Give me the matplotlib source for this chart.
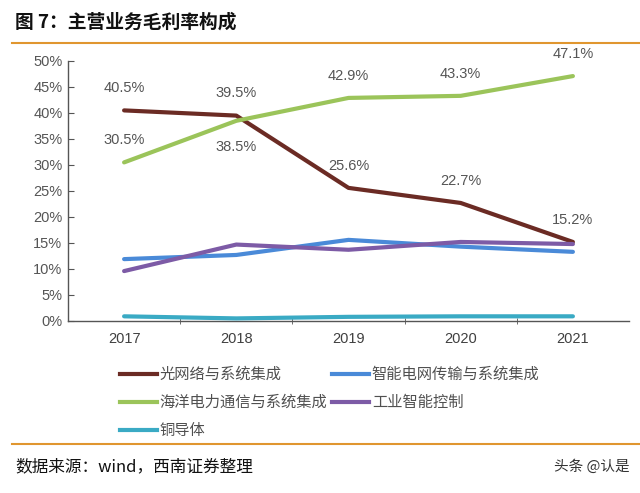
import matplotlib
matplotlib.use("Agg")
import matplotlib.pyplot as plt
from matplotlib.lines import Line2D

plt.rcParams['font.family'] = ['Noto Sans CJK SC', 'DejaVu Sans']

years = ["2017", "2018", "2019", "2020", "2021"]
optical = [40.5, 39.5, 25.6, 22.7, 15.2]
smart_grid = [11.9, 12.7, 15.6, 14.3, 13.3]
marine = [30.5, 38.5, 42.9, 43.3, 47.1]
industrial = [9.6, 14.7, 13.7, 15.2, 14.8]
copper = [0.9, 0.5, 0.8, 0.9, 0.9]
yticks = [0, 5, 10, 15, 20, 25, 30, 35, 40, 45, 50]

names = ["光网络与系统集成", "智能电网传输与系统集成", "海洋电力通信与系统集成", "工业智能控制", "铜导体"]
colors = ["#6B2B24", "#4A8AD8", "#9BC45A", "#7D5BA6", "#3AAAC4"]
series = [optical, smart_grid, marine, industrial, copper]

fig = plt.figure(figsize=(6.4, 4.93), dpi=100)
ax = fig.add_axes([68/640, 1-321/493, (629-68)/640, (321-61)/493])

x = list(range(len(years)))
for vals, c in zip(series, colors):
    ax.plot(x, vals, color=c, lw=3, solid_capstyle='round', zorder=3)

ax.set_xlim(-0.5, 4.5)
ax.set_ylim(0, 50)
ax.set_yticks(yticks)
ax.set_yticklabels([f"{v}%" for v in yticks], fontsize=10.5, color="#555555", family=['Liberation Sans', 'DejaVu Sans'])
ax.set_xticks(x)
ax.set_xticklabels(years, fontsize=10.5, color="#404040", family=['Liberation Sans', 'DejaVu Sans'])
ax.set_xticks([i + 0.5 for i in range(4)], minor=True)
ax.tick_params(axis='x', which='major', length=0, pad=8)
ax.tick_params(axis='x', which='minor', length=4, direction='inout', color="#555555")
ax.tick_params(axis='y', length=4, direction='in', color="#555555", pad=4)
for s in ["top", "right"]:
    ax.spines[s].set_visible(False)
for s in ["left", "bottom"]:
    ax.spines[s].set_color("#555555")
    ax.spines[s].set_linewidth(1)

lab_kw = dict(fontsize=10.5, color="#555555", ha='center', family=['Liberation Sans', 'DejaVu Sans'])
for i, v in enumerate(optical):
    ax.annotate(f"{v}%", (i, v), xytext=(0, 11), textcoords='offset points', va='bottom', **lab_kw)
for i, v in enumerate(marine):
    if i == 1:
        ax.annotate(f"{v}%", (i, v), xytext=(0, -14), textcoords='offset points', va='top', **lab_kw)
    else:
        ax.annotate(f"{v}%", (i, v), xytext=(0, 11), textcoords='offset points', va='bottom', **lab_kw)

handles = [Line2D([0], [0], color=c, lw=3) for c in colors]
order = [0, 2, 4, 1, 3]
fig.legend([handles[i] for i in order], [names[i] for i in order], loc='upper left',
           bbox_to_anchor=(120/640, 1-366/493), ncol=2, borderpad=0, borderaxespad=0,
           frameon=False, fontsize=11, handlelength=2.4, handletextpad=0.2, columnspacing=0.3,
           labelspacing=0.72, labelcolor="#505050")

fig.text(15/640, 1-22/493, "图 7：主营业务毛利率构成", fontsize=13.5, fontweight='bold', va='center', ha='left', color="#111111")
fig.add_artist(Line2D([12/640, 1], [1-43/493, 1-43/493], color="#E0962F", lw=1.5))
fig.add_artist(Line2D([12/640, 1], [1-444/493, 1-444/493], color="#E0962F", lw=1.5))
fig.text(15/640, 1-467/493, "数据来源：wind，西南证券整理", fontsize=12, style='italic', va='center', ha='left', color="#111111")
fig.text(630/640, 1-467/493, "头条 @认是", fontsize=10.5, va='center', ha='right', color="#333333")

fig.savefig("out.png", dpi=100)
